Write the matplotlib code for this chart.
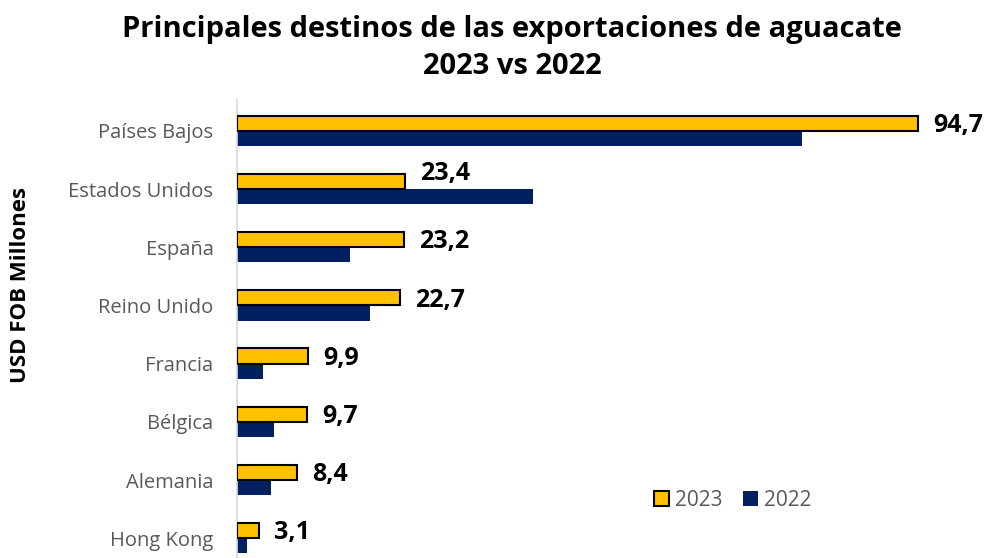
import matplotlib
matplotlib.use("Agg")
import matplotlib.pyplot as plt
import numpy as np

categories = ["Países Bajos", "Estados Unidos", "España", "Reino Unido",
              "Francia", "Bélgica", "Alemania", "Hong Kong"]
values_2023 = [94.7, 23.4, 23.2, 22.7, 9.9, 9.7, 8.4, 3.1]
values_2022 = [78.6, 41.2, 15.7, 18.5, 3.6, 5.1, 4.7, 1.4]
labels_2023 = ["94,7", "23,4", "23,2", "22,7", "9,9", "9,7", "8,4", "3,1"]

plt.rcParams['font.family'] = ['Open Sans', 'DejaVu Sans']

fig = plt.figure(figsize=(9.84, 5.58), dpi=100)
ax = fig.add_axes([237/984, 0, (960-237)/984, 458/558])

y = np.arange(len(categories))
h = 0.26
ax.barh(y - h/2, values_2023, height=h, color="#FFC000", edgecolor="black",
        linewidth=1.5, label="2023", zorder=3)
ax.barh(y + h/2, values_2022, height=h, color="#002060", edgecolor="none",
        label="2022", zorder=2)

for yi, v, v22, lab in zip(y, values_2023, values_2022, labels_2023):
    # raise the label if the 2022 bar runs underneath it
    dy = -0.13 if v22 > v + 2 else 0.04
    ax.text(v + 2.1, yi - h/2 + dy, lab, va="center", ha="left",
            fontsize=18, fontweight="bold", color="black", zorder=4)

ax.set_xlim(0, (960-237) / ((918-237)/94.7))
ax.set_ylim(7.34, -0.53)
ax.set_yticks(y)
ax.set_yticklabels(categories, fontsize=14.5, color="#595959")
ax.tick_params(axis="y", length=0, pad=17)
ax.set_xticks([])
for s in ["top", "right", "bottom"]:
    ax.spines[s].set_visible(False)
ax.spines["left"].set_color("#D9D9D9")
ax.spines["left"].set_linewidth(1.2)

fig.text(21/984, 1 - 285/558, "USD FOB Millones", rotation=90, va="center",
         ha="center", fontsize=16, fontweight="bold", color="black")

fig.text(512/984, 1 - 48/558, "Principales destinos de las exportaciones de aguacate\n2023 vs 2022",
         ha="center", va="center", fontsize=21, fontweight="bold",
         color="black", linespacing=1.35)

leg = ax.legend(loc="center", bbox_to_anchor=(733/984, 1 - 500/558),
                bbox_transform=fig.transFigure, ncol=2, frameon=False,
                fontsize=15, handlelength=0.7, handleheight=0.7,
                handletextpad=0.3, columnspacing=1.0)
for t in leg.get_texts():
    t.set_color("#595959")

fig.savefig("out.png", dpi=100)
